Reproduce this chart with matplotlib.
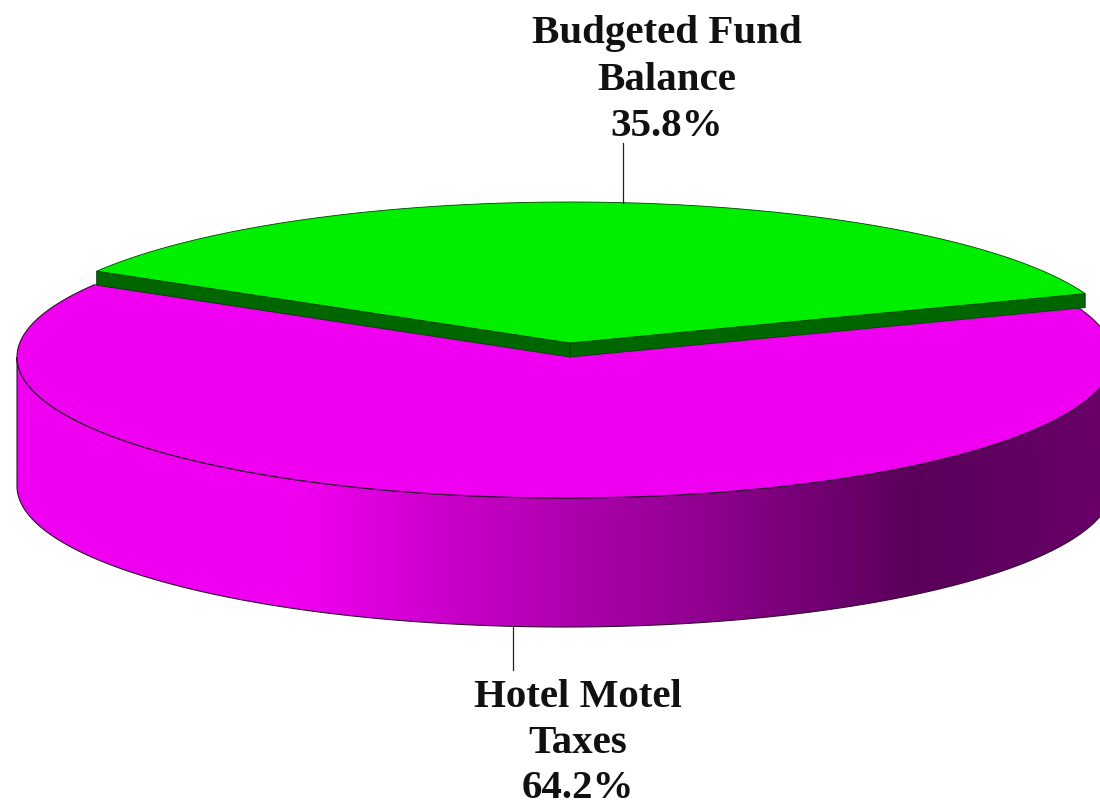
import numpy as np
import matplotlib
matplotlib.use("Agg")
import matplotlib.pyplot as plt
from matplotlib.colors import LinearSegmentedColormap
from matplotlib.patches import Polygon

# Chart values
labels = ["Budgeted Fund\nBalance", "Hotel Motel\nTaxes"]
shares = [35.8, 64.2]

# Layout in pixels
BODY_CX, BODY_CY, BODY_RX, BODY_RY = 565, 357, 548, 141
APEX_X, APEX_Y = 570, 357
SLICE_CX, SLICE_CY, SLICE_RX, SLICE_RY = 570, 343, 550, 141
DEPTH = 129
LIFT = 14
BODY_START = 20.2
SLICE_START = 20.5
GREEN = "#00ee00"
GREEN_DARK = "#006600"
MAGENTA = "#f000f0"
EDGE = "#301030"


# Point on an ellipse, angle in degrees counter clockwise (y axis points down)
def rim(angle, cx=BODY_CX, cy=BODY_CY, rx=BODY_RX, ry=BODY_RY):
    a = np.radians(angle)
    return np.column_stack([cx + rx * np.cos(a), cy - ry * np.sin(a)])


fig = plt.figure(figsize=(11, 8.05), dpi=100)
ax = fig.add_axes([0, 0, 1, 1])
ax.set_xlim(0, 1100)
ax.set_ylim(805, 0)
ax.axis("off")

sweep = shares[0] * 3.6
body_end = BODY_START + sweep
slice_end = SLICE_START + sweep

# Front wall of the magenta slice with a left to right shading
front = np.linspace(180, 360, 300)
wall = np.vstack([rim(front), rim(front[::-1], cy=BODY_CY + DEPTH)])
cmap = LinearSegmentedColormap.from_list(
    "wall",
    [(0, "#f000f0"), (0.27, "#f000f0"), (0.415, "#c800c8"), (0.64, "#900090"),
     (0.83, "#5a005a"), (1, "#680068")],
)
img = ax.imshow(np.linspace(0, 1, 512).reshape(1, -1), extent=[0, 1100, 805, 0],
                cmap=cmap, aspect="auto", zorder=1)
wall_patch = Polygon(wall, closed=True, facecolor="none", edgecolor=EDGE, lw=0.8, zorder=2)
ax.add_patch(wall_patch)
img.set_clip_path(wall_patch)

# Top of the magenta slice
arc = np.linspace(body_end, BODY_START + 360, 300)
top = np.vstack([[APEX_X, APEX_Y], rim(arc)])
ax.add_patch(Polygon(top, closed=True, facecolor=MAGENTA, edgecolor="none", zorder=3))
ax.plot(*rim(arc).T, color=EDGE, lw=0.8, zorder=4)

# Green slice sits a little above the magenta one
left_top = rim(slice_end, SLICE_CX, SLICE_CY, SLICE_RX, SLICE_RY)[0]
right_top = rim(SLICE_START, SLICE_CX, SLICE_CY, SLICE_RX, SLICE_RY)[0]
for corner in (left_top, right_top):
    side = [corner, [SLICE_CX, SLICE_CY], [SLICE_CX, SLICE_CY + LIFT], [corner[0], corner[1] + LIFT]]
    ax.add_patch(Polygon(side, closed=True, facecolor=GREEN_DARK, edgecolor="#003300", lw=0.6, zorder=5))
arc = np.linspace(SLICE_START, slice_end, 200)
ax.add_patch(Polygon(np.vstack([[SLICE_CX, SLICE_CY], rim(arc, SLICE_CX, SLICE_CY, SLICE_RX, SLICE_RY)]),
                     closed=True, facecolor=GREEN, edgecolor="#004400", lw=0.6, zorder=6))

# Labels and leader lines
font = dict(family="Liberation Serif", fontweight="bold", fontsize=29.5, color="#111111",
            ha="center", va="center")
ax.text(667, 80, f"{labels[0]}\n{shares[0]}%", linespacing=1.33, **font)
ax.text(578, 743, f"{labels[1]}\n{shares[1]}%", linespacing=1.31, **font)
ax.plot([623, 623], [143, 203], color="#222222", lw=0.9, zorder=7)
ax.plot([513, 513], [627, 670], color="#222222", lw=0.9, zorder=7)

fig.savefig("out.png", dpi=100, facecolor="white")
